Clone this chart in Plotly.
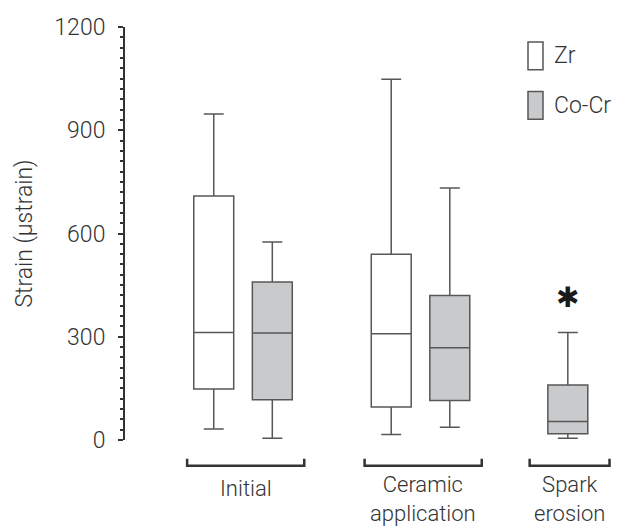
import plotly.graph_objects as go

# ---- data ----
groups = ["Initial", "Ceramic<br>application", "Spark<br>erosion"]
group_pos = [0.0, 1.0, 1.83]

zr_q1 = [148, 96]
zr_median = [312, 309]
zr_q3 = [709, 540]
zr_low = [32, 16]
zr_high = [947, 1048]

cocr_q1 = [117, 115, 18]
cocr_median = [311, 268, 54]
cocr_q3 = [459, 420, 160]
cocr_low = [5, 37, 5]
cocr_high = [575, 732, 312]

y_ticks = [0, 300, 600, 900, 1200]
star_value = 415

# ---- layout helpers ----
offset = 0.165
box_w = 0.225
zr_x = [group_pos[0] - offset, group_pos[1] - offset]
cocr_x = [group_pos[0] + offset, group_pos[1] + offset, group_pos[2]]

FONT = "Roboto"
FS = 23
TXT = "#333333"
LINE = "#575757"
GRAY = "#c9cacc"

# plot area in page pixels (page body has an 8px margin)
PX_L, PX_T, PX_W, PX_H = 125, 24, 495, 416


def py(y):
    return (PX_T + PX_H - y) / PX_H


def px(x):
    return (x - PX_L) / PX_W


fig = go.Figure()
fig.add_trace(go.Box(
    x=zr_x, q1=zr_q1, median=zr_median, q3=zr_q3,
    lowerfence=zr_low, upperfence=zr_high,
    width=box_w, whiskerwidth=0.5,
    fillcolor="white", line=dict(color=LINE, width=1.5),
    name="Zr", showlegend=False, boxpoints=False,
))
fig.add_trace(go.Box(
    x=cocr_x, q1=cocr_q1, median=cocr_median, q3=cocr_q3,
    lowerfence=cocr_low, upperfence=cocr_high,
    width=box_w, whiskerwidth=0.5,
    fillcolor=GRAY, line=dict(color=LINE, width=1.5),
    name="Co-Cr", showlegend=False, boxpoints=False,
))

shapes = []
annotations = []
# brackets + group labels
half_widths = [0.33, 0.33, 0.225]
centers = [group_pos[0] + 0.015, group_pos[1] + 0.015, group_pos[2] + 0.01]
yb = py(466)
yt = py(459)
for c, hw, lab in zip(centers, half_widths, groups):
    shapes.append(dict(type="path", xref="x", yref="paper",
                       path=f"M {c-hw},{yt} L {c-hw},{yb} L {c+hw},{yb} L {c+hw},{yt}",
                       line=dict(color="#333333", width=2.5)))
    n_lines = lab.count("<br>") + 1
    annotations.append(dict(x=c, y=py(489 + 10 * (n_lines - 1)), xref="x", yref="paper", text=lab,
                            showarrow=False, yanchor="middle", xanchor="center",
                            font=dict(family=FONT, size=22, color=TXT, weight=300)))

# significance asterisk
annotations.append(dict(x=group_pos[2], y=star_value, xref="x", yref="y", text="✱",
                        showarrow=False, font=dict(family="DejaVu Sans", size=28, color="#1a1a1a")))

# legend (custom)
leg = [("Zr", "white", 0), ("Co-Cr", GRAY, 1)]
for name, col, i in leg:
    top_px = 39 + i * 50
    y0 = py(top_px + 28)
    y1 = py(top_px)
    shapes.append(dict(type="rect", xref="paper", yref="paper", x0=px(528), x1=px(543), y0=y0, y1=y1,
                       fillcolor=col, line=dict(color=LINE, width=1.5)))
    annotations.append(dict(x=px(552), y=(y0 + y1) / 2, xref="paper", yref="paper",
                            text=name, showarrow=False, xanchor="left", yanchor="middle",
                            font=dict(family=FONT, size=FS, color=TXT, weight=300)))

fig.update_layout(
    width=618, height=524,
    margin=dict(l=PX_L - 8, r=618 - (PX_L - 8) - PX_W, t=PX_T - 8, b=524 - (PX_T - 8) - PX_H),
    paper_bgcolor="white", plot_bgcolor="white",
    shapes=shapes, annotations=annotations,
    showlegend=False,
    xaxis=dict(range=[-0.665, 2.124], visible=False, fixedrange=True),
    yaxis=dict(
        range=[0, 1200], tickvals=y_ticks, ticktext=[str(v) for v in y_ticks],
        showline=True, linecolor="#333333", linewidth=2,
        ticks="outside", ticklen=5, tickwidth=2, tickcolor="#333333",
        minor=dict(dtick=30, ticks="outside", ticklen=3, tickwidth=1.5, tickcolor="#333333"),
        showgrid=False, zeroline=False,
        tickfont=dict(family=FONT, size=FS, color=TXT, weight=300),
        title=dict(text="Strain (μstrain)", standoff=15,
                   font=dict(family=FONT, size=FS, color=TXT, weight=300)),
        ticklabelstandoff=8,
    ),
)
fig.write_html("out.html")
